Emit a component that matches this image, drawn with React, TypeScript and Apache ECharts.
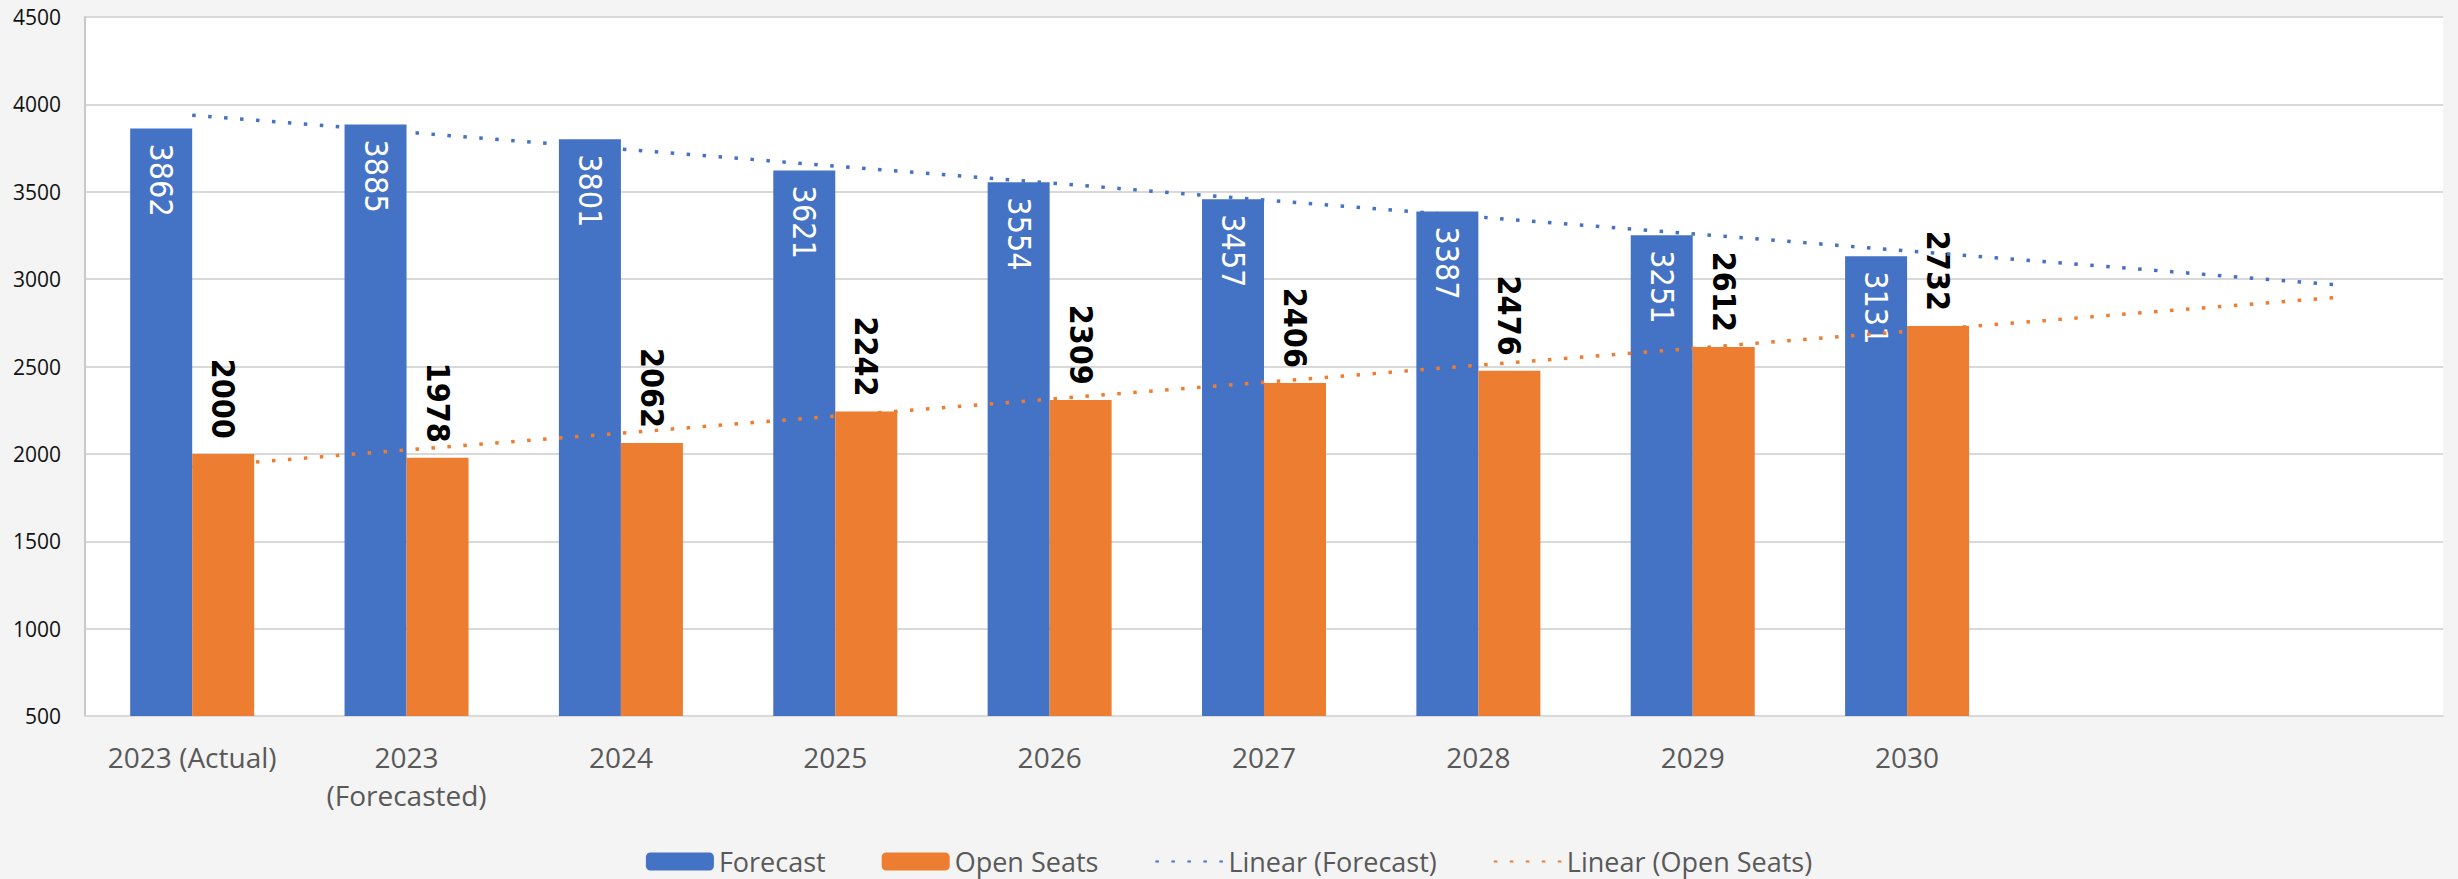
import React, { useEffect, useRef } from "react";
import * as echarts from "echarts";

const categories = [
  "2023 (Actual)",
  "2023\n(Forecasted)",
  "2024",
  "2025",
  "2026",
  "2027",
  "2028",
  "2029",
  "2030",
  "",
  "",
];
const forecast = [3862, 3885, 3801, 3621, 3554, 3457, 3387, 3251, 3131];
const openSeats = [2000, 1978, 2062, 2242, 2309, 2406, 2476, 2612, 2732];
// trend line end values (category 0 and category 10)
const forecastTrendEnds = [3938, 2968];
const openSeatsTrendEnds = [1925, 2895];
const yTicks = { min: 500, max: 4500, interval: 500 };

const BLUE = "#4472C4";
const ORANGE = "#ED7D31";

function trendSeries(ends: number[]) {
  const arr: (number | null)[] = categories.map(() => null);
  arr[0] = ends[0];
  arr[categories.length - 1] = ends[1];
  return arr;
}

export default function App() {
  const ref = useRef<HTMLDivElement>(null);
  useEffect(() => {
    document.body.style.margin = "0";
    const chart = echarts.init(ref.current!, null, { renderer: "svg" });
    const narrow = "'Liberation Sans Narrow', 'DejaVu Sans Condensed', sans-serif";
    chart.setOption({
      animation: false,
      backgroundColor: "#f4f4f4",
      grid: {
        left: 85,
        right: 15,
        top: 17,
        bottom: 163,
        show: true,
        backgroundColor: "#ffffff",
        borderWidth: 0,
      },
      legend: {
        top: 843,
        left: "center",
        itemWidth: 68,
        itemHeight: 18,
        itemGap: 56,
        textStyle: { fontSize: 27, color: "#595959", fontFamily: "Open Sans" },
        data: [
          { name: "Forecast" },
          { name: "Open Seats" },
          { name: "Linear (Forecast)", itemStyle: { opacity: 0 } },
          { name: "Linear (Open Seats)", itemStyle: { opacity: 0 } },
        ],
      },
      xAxis: {
        type: "category",
        data: categories,
        axisTick: { show: false },
        axisLine: { lineStyle: { color: "#d9d9d9", width: 2 } },
        axisLabel: {
          interval: 0,
          fontSize: 28,
          lineHeight: 38,
          color: "#595959",
          fontFamily: "Open Sans",
          margin: 22,
        },
      },
      yAxis: {
        type: "value",
        min: yTicks.min,
        max: yTicks.max,
        interval: yTicks.interval,
        axisLine: { show: true, lineStyle: { color: "#c9c9c9", width: 2 } },
        axisTick: { show: false },
        splitLine: { lineStyle: { color: "#d9d9d9", width: 2 } },
        axisLabel: {
          fontSize: 21,
          color: "#111111",
          fontFamily: "Open Sans",
          margin: 24,
          formatter: (v: number) => String(v),
        },
      },
      series: [
        {
          name: "Forecast",
          type: "bar",
          data: forecast,
          barWidth: 62,
          barGap: "0%",
          itemStyle: { color: BLUE },
          label: {
            show: true,
            position: "insideTop",
            distance: 15,
            rotate: -90,
            align: "left",
            verticalAlign: "middle",
            color: "#ffffff",
            fontSize: 32,
            fontFamily: narrow,
          },
        },
        {
          name: "Open Seats",
          type: "bar",
          data: openSeats,
          barWidth: 62,
          barGap: "0%",
          itemStyle: { color: ORANGE },
          label: {
            show: true,
            position: "top",
            distance: 15,
            rotate: -90,
            align: "right",
            verticalAlign: "middle",
            color: "#000000",
            fontWeight: "bold",
            fontSize: 32,
            fontFamily: narrow,
          },
        },
        {
          name: "Linear (Forecast)",
          type: "line",
          data: trendSeries(forecastTrendEnds),
          connectNulls: true,
          symbol: "none",
          z: 5,
          itemStyle: { color: BLUE },
          lineStyle: { color: BLUE, width: 3.5, type: [3.5, 12.5], cap: "butt" },
        },
        {
          name: "Linear (Open Seats)",
          type: "line",
          data: trendSeries(openSeatsTrendEnds),
          connectNulls: true,
          symbol: "none",
          z: 5,
          itemStyle: { color: ORANGE },
          lineStyle: { color: ORANGE, width: 3.5, type: [3.5, 12.5], cap: "butt" },
        },
      ],
    });
    return () => chart.dispose();
  }, []);
  return (
    <div
      ref={ref}
      style={{ position: "fixed", left: 0, top: 0, width: 2458, height: 879 }}
    />
  );
}
